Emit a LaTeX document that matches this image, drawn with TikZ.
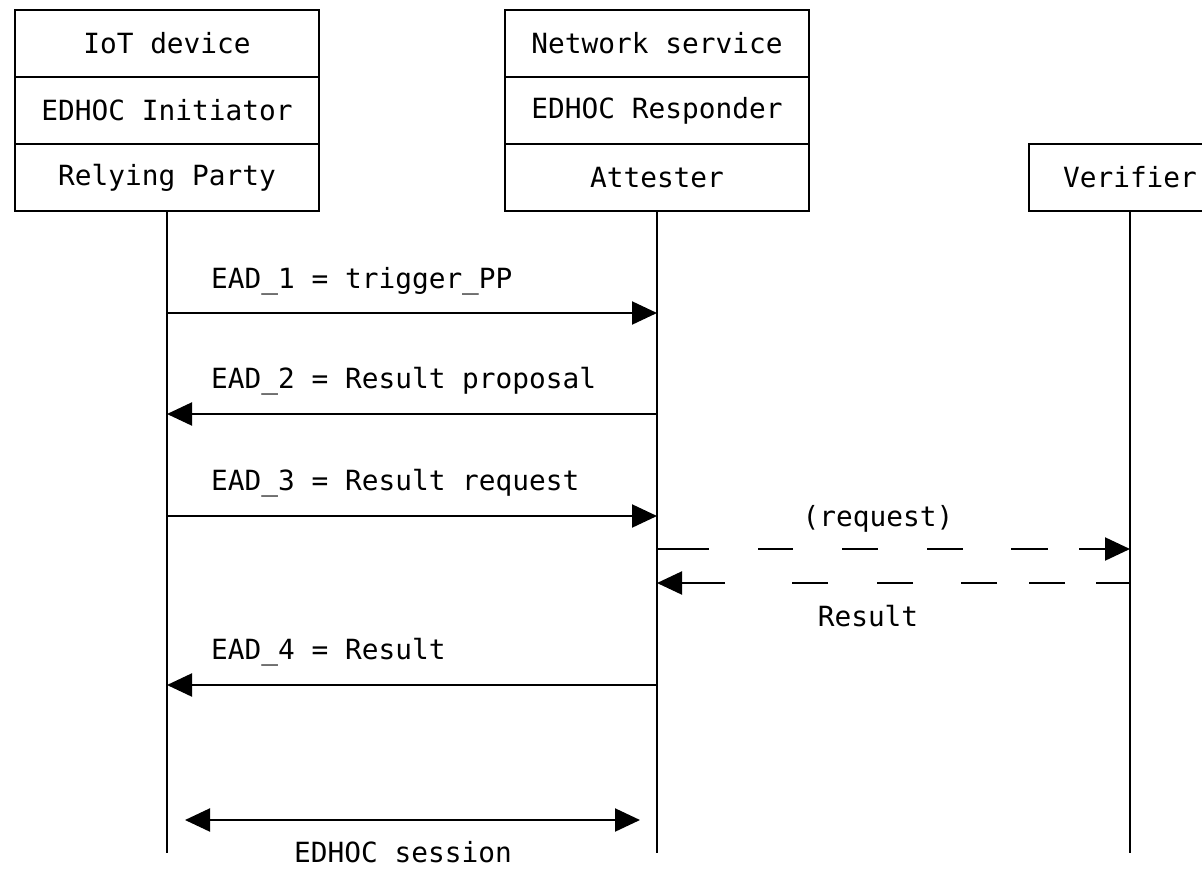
\documentclass[tikz,border=0pt]{standalone}
\usepackage{fontspec}
\setmainfont{DejaVu Sans Mono}
\usepackage{tikz}
\usetikzlibrary{positioning,arrows.meta}

\begin{document}
\begin{tikzpicture}[
    x=1pt, y=-1pt,
    font=\fontsize{27.8}{33}\selectfont,
    lane/.style={rectangle, draw, line width=2.1pt, minimum width=304pt, minimum height=67pt, inner sep=0pt, outer sep=0pt, fill=white},
    life/.style={line width=2.1pt},
    msg/.style={line width=2.1pt, -{Triangle[length=25pt, width=23pt]}},
    both/.style={line width=2.1pt, {Triangle[length=25pt, width=23pt]}-{Triangle[length=25pt, width=23pt]}},
    reqdash/.style={dash pattern=on 52pt off 49pt on 35pt off 49pt on 36pt off 49pt on 36pt off 48pt on 37pt off 31pt on 60pt},
    resdash/.style={dash pattern=on 34pt off 31pt on 36pt off 32pt on 36pt off 48pt on 36pt off 49pt on 36pt off 67pt on 60pt},
    lbl/.style={inner sep=0pt, anchor=base west},
    midlbl/.style={inner sep=0pt, anchor=base}
]
  \useasboundingbox (0,0) rectangle (1202,868);
  \clip (0,0) rectangle (1202,868);

  \node[lane] (iot) at (167,43.5) {IoT device};
  \node[lane] (init) [below=0pt of iot] {EDHOC Initiator};
  \node[lane] (rp) [below=0pt of init] {Relying Party};

  \node[lane] (net) at (657,43.5) {Network service};
  \node[lane] (resp) [below=0pt of net] {EDHOC Responder};
  \node[lane] (att) [below=0pt of resp] {Attester};

  \node[lane, minimum width=202pt] (ver) at (1130,177.5) {Verifier};

  \coordinate (bottom) at (0,853);
  \draw[life] (rp.south) -- (rp.south |- bottom);
  \draw[life] (att.south) -- (att.south |- bottom);
  \draw[life] (ver.south) -- (ver.south |- bottom);

  \coordinate (m1) at (0,313);
  \coordinate (m2) at (0,414);
  \coordinate (m3) at (0,516);
  \coordinate (m4) at (0,549);
  \coordinate (m5) at (0,583);
  \coordinate (m6) at (0,685);
  \coordinate (m7) at (0,820);

  \draw[msg] (rp |- m1) -- (att |- m1);
  \node[lbl] (ead1) at (211,288) {EAD\_1 = trigger\_PP};

  \draw[msg] (att |- m2) -- (rp |- m2);
  \node[lbl] (ead2) at (211,388) {EAD\_2 = Result proposal};

  \draw[msg] (rp |- m3) -- (att |- m3);
  \node[lbl] (ead3) at (211,490) {EAD\_3 = Result request};

  \draw[msg, reqdash] (att |- m4) -- (ver |- m4);
  \node[midlbl] (req) at (878,526) {(request)};

  \draw[msg, resdash] (ver |- m5) -- (att |- m5);
  \node[midlbl] (res) at (868,626) {Result};

  \draw[msg] (att |- m6) -- (rp |- m6);
  \node[lbl] (ead4) at (211,659) {EAD\_4 = Result};

  \draw[both, shorten <=18pt, shorten >=17pt] (rp |- m7) -- (att |- m7);
  \node[midlbl] (sess) at (403,862) {EDHOC session};
\end{tikzpicture}
\end{document}
